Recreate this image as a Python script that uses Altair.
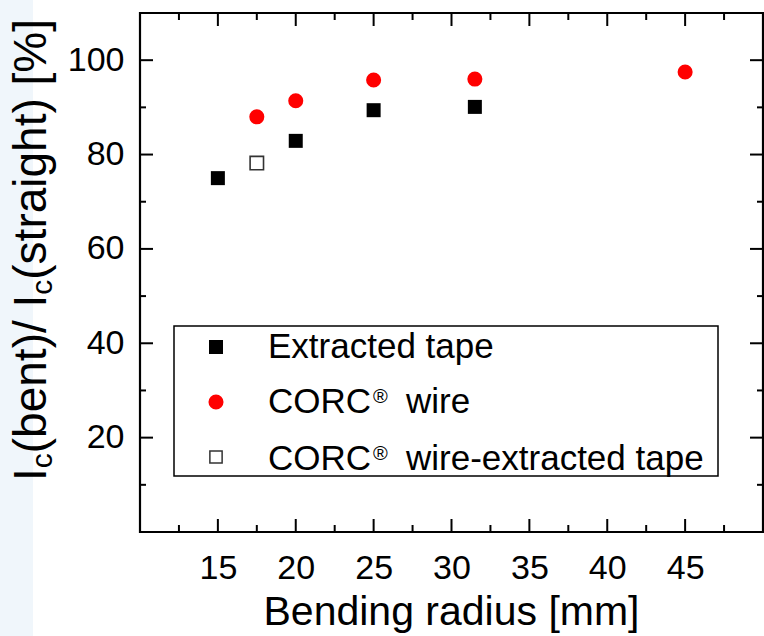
import altair as alt
import pandas as pd

# ---------------- data ----------------
extracted_r = [15, 20, 25, 31.5]
extracted_ic = [75.0, 82.9, 89.4, 90.1]
corc_r = [17.5, 20, 25, 31.5, 45]
corc_ic = [88.0, 91.4, 95.8, 96.0, 97.5]
corc_ext_r = [17.5]
corc_ext_ic = [78.2]

x_major = [15, 20, 25, 30, 35, 40, 45]
x_minor = [12.5, 17.5, 22.5, 27.5, 32.5, 37.5, 42.5, 47.5]
y_major = [20, 40, 60, 80, 100]
y_minor = [10, 30, 50, 70, 90]

legend_labels = ["Extracted tape", "CORC", "\u00ae", "wire", "CORC", "\u00ae", "wire-extracted tape"]
x_title = "Bending radius [mm]"
y_title_parts = ["I", "c", "(bent)/ I", "c", "(straight) [%]"]

# ---------------- layout ----------------
W, H = 623, 519
PAD_L, PAD_T = 140, 13
FONT = "Liberation Sans"

xs = alt.Scale(domain=[10, 50], nice=False, zero=False)
ys = alt.Scale(domain=[0, 110], nice=False, zero=False)

xaxis = alt.Axis(values=x_major, ticks=False, domain=False, grid=False, tickSize=0,
                 labelFontSize=34, labelFont=FONT, labelColor="black",
                 labelPadding=19, title=None, labelFlush=False, labelOverlap=False)
yaxis = alt.Axis(values=y_major, ticks=False, domain=False, grid=False, tickSize=0,
                 labelFontSize=34, labelFont=FONT, labelColor="black",
                 labelPadding=16, title=None, labelFlush=False, labelOverlap=False)

one = pd.DataFrame({"a": [0]})

df_ext = pd.DataFrame({"r": extracted_r, "ic": extracted_ic})
df_corc = pd.DataFrame({"r": corc_r, "ic": corc_ic})
df_cext = pd.DataFrame({"r": corc_ext_r, "ic": corc_ext_ic})

X = lambda f: alt.X(f, scale=xs, axis=xaxis)
Y = lambda f: alt.Y(f, scale=ys, axis=yaxis)

# left light-blue strip of the page
strip = alt.Chart(one).mark_rect(fill="#f0f6fb").encode(
    x=alt.value(-PAD_L), x2=alt.value(-PAD_L + 33),
    y=alt.value(-PAD_T), y2=alt.value(H + 104))

# data points
pts_ext = alt.Chart(df_ext).mark_square(size=196, color="black", opacity=1).encode(
    x=X("r:Q"), y=Y("ic:Q"))
pts_corc = alt.Chart(df_corc).mark_circle(size=227, color="#ff0000", opacity=1).encode(
    x=X("r:Q"), y=Y("ic:Q"))
pts_cext = alt.Chart(df_cext).mark_square(size=180, fill="white", stroke="#333333",
                                           strokeWidth=1.6, opacity=1).encode(
    x=X("r:Q"), y=Y("ic:Q"))

# inward ticks on all four sides
def xticks(vals, length):
    d = pd.DataFrame({"r": vals})
    b = alt.Chart(d).mark_rule(color="black", strokeWidth=2).encode(
        x=X("r:Q"), y=alt.value(H), y2=alt.value(H - length))
    t = alt.Chart(d).mark_rule(color="black", strokeWidth=2).encode(
        x=X("r:Q"), y=alt.value(0), y2=alt.value(length))
    return [b, t]

def yticks(vals, length):
    d = pd.DataFrame({"ic": vals})
    l = alt.Chart(d).mark_rule(color="black", strokeWidth=2).encode(
        y=Y("ic:Q"), x=alt.value(0), x2=alt.value(length))
    r = alt.Chart(d).mark_rule(color="black", strokeWidth=2).encode(
        y=Y("ic:Q"), x=alt.value(W), x2=alt.value(W - length))
    return [l, r]

ticks = xticks(x_major, 13) + xticks(x_minor, 7) + yticks(y_major, 13) + yticks(y_minor, 6)

# legend (drawn manually)
LX0, LX1, LY0, LY1 = 174 - PAD_L, 718 - PAD_L, 326 - PAD_T, 476 - PAD_T
leg_box = alt.Chart(one).mark_rect(fill="white", stroke="black", strokeWidth=1.5).encode(
    x=alt.value(LX0), x2=alt.value(LX1), y=alt.value(LY0), y2=alt.value(LY1))
SX = 216 - PAD_L
rows = [347 - PAD_T, 402 - PAD_T, 457 - PAD_T]
leg_sym1 = alt.Chart(one).mark_square(size=196, color="black", opacity=1).encode(
    x=alt.value(SX), y=alt.value(rows[0]))
leg_sym2 = alt.Chart(one).mark_circle(size=227, color="#ff0000", opacity=1).encode(
    x=alt.value(SX), y=alt.value(rows[1]))
leg_sym3 = alt.Chart(one).mark_square(size=150, fill="white", stroke="#333333",
                                       strokeWidth=1.5, opacity=1).encode(
    x=alt.value(SX), y=alt.value(rows[2]))

TX = 268 - PAD_L
LF = 35
base_y = [358 - PAD_T, 413 - PAD_T, 470 - PAD_T]

def txt(s, x, y, size, angle=0):
    m = alt.Chart(one).mark_text(text=s, align="left", baseline="alphabetic",
                                 fontSize=size, font=FONT, color="black", angle=angle)
    return m.encode(x=alt.value(x), y=alt.value(y))

corc_w = 2.944 * LF
leg_texts = [
    txt(legend_labels[0], TX, base_y[0], LF),
    txt(legend_labels[1], TX, base_y[1], LF),
    txt(legend_labels[2], TX + corc_w + 2, base_y[1] - 10, 20),
    txt(legend_labels[3], 406 - PAD_L, base_y[1], LF),
    txt(legend_labels[4], TX, base_y[2], LF),
    txt(legend_labels[5], TX + corc_w + 2, base_y[2] - 10, 20),
    txt(legend_labels[6], 406 - PAD_L, base_y[2], LF),
]

# x title
x_title_mark = alt.Chart(one).mark_text(text=x_title, align="center", baseline="alphabetic",
                                        fontSize=41, font=FONT, color="black").encode(
    x=alt.value(W / 2), y=alt.value(625 - PAD_T))

# y title with subscripts (rotated, reading upward)
F, S = 46, 30
widths = [0.278 * F, 0.5 * S, 3.446 * F, 0.5 * S, 5.668 * F]
sizes = [F, S, F, S, F]
BX = 46 - PAD_L
y0 = 481 - PAD_T
y_title_marks = []
for part, w, sz in zip(y_title_parts, widths, sizes):
    xx = BX + (6 if sz == S else 0)
    y_title_marks.append(txt(part, xx, y0, sz, angle=270))
    y0 -= w

chart = alt.layer(
    strip, pts_ext, *ticks, pts_corc, pts_cext,
    leg_box, leg_sym1, leg_sym2, leg_sym3, *leg_texts,
    x_title_mark, *y_title_marks
).properties(
    width=W, height=H,
    autosize=alt.AutoSizeParams(type="none"),
    padding={"left": PAD_L, "top": PAD_T, "right": 1, "bottom": 104},
    background="white",
).configure_view(stroke="black", strokeWidth=2.2)

chart.save("out.html", embed_options={"renderer": "svg", "actions": False})
